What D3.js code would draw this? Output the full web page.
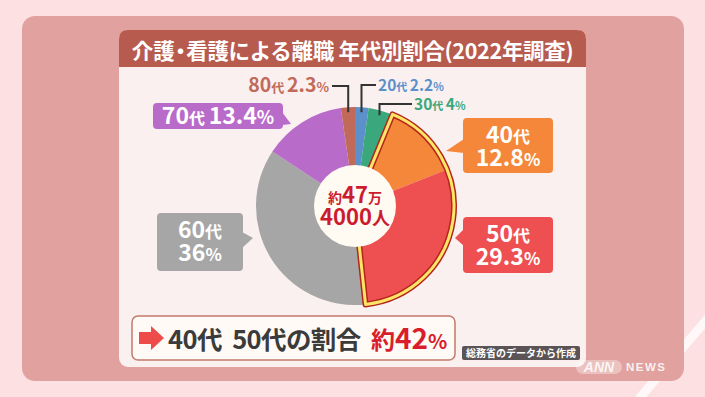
<!DOCTYPE html>
<meta charset="utf-8">
<style>
  body { margin: 0; background: #fde0e1; }
  svg { display: block; font-family: "Noto Sans CJK JP", "Noto Sans", sans-serif; font-weight: 700; }
  text { white-space: pre; }
</style>
<body>
<script src="https://cdn.jsdelivr.net/npm/d3@7/dist/d3.min.js"></script>
<script>
  // data
  var ages = ["20代", "30代", "40代", "50代", "60代", "70代", "80代"];
  var shares = [2.2, 4, 12.8, 29.3, 36, 13.4, 2.3];
  var colors = ["#5b90cb", "#3aa77c", "#f5873a", "#ee5052", "#a6a6a6", "#b96bc9", "#c26a5a"];
  var highlighted = ["40代", "50代"];
  var titleParts = ["介護", "・", "看護による離職 年代別割合(2022年調査)"];
  var total = ["約", "47", "万", "4000", "人"];
  var summary = ["40代  50代の割合  ", "約", "42", "%"];
  var source = "総務省のデータから作成";

  var width = 705, height = 397;
  var cx = 355, cy = 206, R = 99, hole = 41;

  var data = ages.map(function(a, i) { return { age: a, value: shares[i], color: colors[i] }; });

  // small slices get a leader line, big ones a callout box
  var leaderLabels = {
    "80代": { x: 329, y: 92, lineY: 86, anchor: "end", big: 19.5, small: 13 },
    "20代": { x: 378, y: 91, lineY: 85, anchor: "start", big: 15.5, small: 11 },
    "30代": { x: 414, y: 110, lineY: 104, anchor: "start", big: 15.5, small: 11 }
  };
  var boxLabels = {
    "70代": { x: 153, y: 103, w: 130, h: 26, oneLine: true, tip: [[282, 112], [291, 124], [282, 125]] },
    "40代": { x: 463, y: 118, w: 90, h: 55, tip: [[464, 139], [446, 151], [464, 153]] },
    "50代": { x: 463, y: 217, w: 90, h: 56, tip: [[464, 229], [455, 238], [464, 246]] },
    "60代": { x: 157, y: 213, w: 86, h: 58, tip: [[242, 232], [253, 238], [242, 248]] }
  };

  var svg = d3.select("body").append("svg")
    .attr("width", width)
    .attr("height", height);

  // background stripe + panels
  svg.append("line")
    .attr("x1", 732).attr("y1", 290).attr("x2", 632).attr("y2", 407)
    .attr("stroke", "#fff").attr("stroke-opacity", 0.75).attr("stroke-width", 9);

  svg.append("rect")
    .attr("x", 22).attr("y", 16).attr("width", 662).attr("height", 365)
    .attr("rx", 13).attr("fill", "#e0a19f");

  svg.append("rect")
    .attr("x", 119).attr("y", 30).attr("width", 467).attr("height", 337)
    .attr("rx", 9).attr("fill", "#faf0ef");

  svg.append("path")
    .attr("d", topRounded(119, 30, 467, 37, 9))
    .attr("fill", "#b85b4f");

  var tt = svg.append("text")
    .attr("x", 352.5).attr("y", 58.5)
    .attr("text-anchor", "middle")
    .attr("font-size", 21.5)
    .attr("fill", "#fff");
  tt.append("tspan").text(titleParts[0]);
  tt.append("tspan").attr("letter-spacing", -11).attr("dx", -5).text(titleParts[1]);
  tt.append("tspan").attr("dx", 6).attr("letter-spacing", -0.3).text(titleParts[2]);

  // pie
  var pie = d3.pie().sort(null).value(function(d) { return d.value; });
  var arcs = pie(data);
  var arc = d3.arc().innerRadius(0).outerRadius(R);

  var g = svg.append("g").attr("transform", "translate(" + cx + "," + cy + ")");

  g.selectAll(".slice")
    .data(arcs)
    .join("path")
    .attr("class", "slice")
    .attr("d", arc)
    .attr("fill", function(d) { return d.data.color; });

  var hl = arcs.filter(function(d) { return highlighted.indexOf(d.data.age) >= 0; });
  var hlArc = {
    startAngle: d3.min(hl, function(d) { return d.startAngle; }),
    endAngle: d3.max(hl, function(d) { return d.endAngle; })
  };
  g.append("path").attr("d", arc(hlArc))
    .attr("fill", "none").attr("stroke", "#b3261e").attr("stroke-width", 6).attr("stroke-linejoin", "round");
  g.append("path").attr("d", arc(hlArc))
    .attr("fill", "none").attr("stroke", "#ffe566").attr("stroke-width", 3).attr("stroke-linejoin", "round");

  g.append("circle").attr("r", hole).attr("fill", "#fffaf2");

  var red = "#cc1b2f";
  richText(g, 0, -3, [[total[0], 14], [total[1], 22], [total[2], 14]], "middle", red);
  richText(g, 0, 19, [[total[3], 22], [total[4], 18]], "middle", red);

  // labels
  arcs.forEach(function(d) {
    var age = d.data.age;
    var num = age.replace("代", "");
    var mid = (d.startAngle + d.endAngle) / 2;

    if (leaderLabels[age]) {
      var L = leaderLabels[age];
      var px = cx + (R - 5) * Math.sin(mid);
      var py = cy - (R - 5) * Math.cos(mid);
      var hx = L.anchor === "end" ? L.x + 3 : L.x - 2;
      svg.append("path")
        .attr("d", "M" + px + "," + py + "V" + L.lineY + "H" + hx)
        .attr("fill", "none").attr("stroke", "#333").attr("stroke-width", 2);
      richText(svg, L.x, L.y,
        [[num, L.big], ["代", L.small], [" ", L.small], [String(d.data.value), L.big], ["%", L.small]],
        L.anchor, d.data.color);
    } else if (boxLabels[age]) {
      var B = boxLabels[age];
      svg.append("rect")
        .attr("x", B.x).attr("y", B.y).attr("width", B.w).attr("height", B.h)
        .attr("rx", 4).attr("fill", d.data.color);
      svg.append("path")
        .attr("d", "M" + B.tip.join("L") + "Z")
        .attr("fill", d.data.color);
      var mx = B.x + B.w / 2;
      if (B.oneLine) {
        richText(svg, mx, B.y + 20.5,
          [[num, 23], ["代", 16], [" ", 16], [String(d.data.value), 23], ["%", 18]], "middle", "#fff");
      } else {
        richText(svg, mx, B.y + 25, [[num, 23], ["代", 17]], "middle", "#fff");
        richText(svg, mx, B.y + 48, [[String(d.data.value), 23], ["%", 17]], "middle", "#fff");
      }
    }
  });

  // summary box
  svg.append("rect")
    .attr("x", 132).attr("y", 316).attr("width", 323).attr("height", 44)
    .attr("rx", 6).attr("fill", "#fffaf5")
    .attr("stroke", "#c27a6c").attr("stroke-width", 1.5);

  svg.append("path")
    .attr("d", "M139,332H151V326L164,338L151,350V344H139Z")
    .attr("fill", "#ee4b4b");

  var st = svg.append("text").attr("x", 168).attr("y", 348.5).attr("font-size", 25.5);
  st.append("tspan").attr("fill", "#3b3b3b").attr("letter-spacing", -0.6).text(summary[0]);
  st.append("tspan").attr("fill", "#d81e2c").attr("font-size", 24).text(summary[1]);
  st.append("tspan").attr("fill", "#d81e2c").attr("font-size", 28).text(summary[2]);
  st.append("tspan").attr("fill", "#d81e2c").attr("font-size", 20).text(summary[3]);

  // source caption
  svg.append("rect")
    .attr("x", 462).attr("y", 346).attr("width", 118).attr("height", 14)
    .attr("rx", 2).attr("fill", "#5a5456");
  svg.append("text")
    .attr("x", 521).attr("y", 357)
    .attr("text-anchor", "middle")
    .attr("font-size", 10)
    .attr("fill", "#fff")
    .text(source);

  // broadcaster mark
  svg.append("rect")
    .attr("x", 576).attr("y", 360).attr("width", 46).attr("height", 14)
    .attr("rx", 7).attr("fill", "#fff").attr("fill-opacity", 0.35);
  svg.append("text")
    .attr("x", 599).attr("y", 372)
    .attr("text-anchor", "middle")
    .attr("font-size", 14).attr("font-style", "italic")
    .attr("font-family", "Liberation Sans, sans-serif")
    .attr("fill", "#fff").attr("fill-opacity", 0.85)
    .text("ANN");
  svg.append("text")
    .attr("x", 626).attr("y", 371)
    .attr("font-size", 11.5).attr("letter-spacing", 1.5)
    .attr("font-family", "Liberation Sans, sans-serif")
    .attr("fill", "#fff").attr("fill-opacity", 0.85)
    .text("NEWS");

  function richText(sel, x, y, parts, anchor, fill) {
    var t = sel.append("text")
      .attr("x", x).attr("y", y)
      .attr("text-anchor", anchor)
      .attr("fill", fill);
    parts.forEach(function(p) {
      t.append("tspan").attr("font-size", p[1]).text(p[0]);
    });
    return t;
  }

  function topRounded(x, y, w, h, r) {
    return "M" + x + "," + (y + h) +
      "V" + (y + r) +
      "Q" + x + "," + y + " " + (x + r) + "," + y +
      "H" + (x + w - r) +
      "Q" + (x + w) + "," + y + " " + (x + w) + "," + (y + r) +
      "V" + (y + h) + "Z";
  }
</script>
</body>
